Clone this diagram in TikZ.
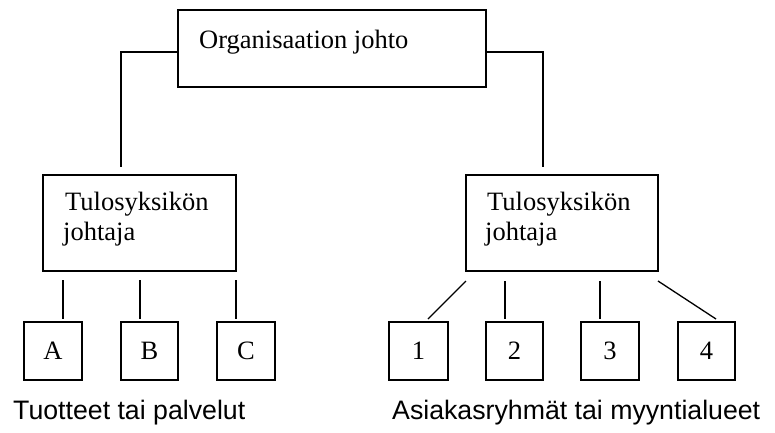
\documentclass[tikz,border=0pt]{standalone}
\usepackage{fontspec}
\setmainfont{Liberation Serif}
\newfontfamily\capfont{Liberation Sans}
\usetikzlibrary{calc}
\begin{document}
\begin{tikzpicture}[x=1pt,y=-1pt,
  box/.style={draw,line width=1.6pt,inner sep=0pt,outer sep=0pt},
  conn/.style={line width=1.3pt},
  txt/.style={anchor=base west,inner sep=0pt,font=\fontsize{26.5}{30}\selectfont},
  lbl/.style={font=\fontsize{26.5}{30}\selectfont},
  captxt/.style={anchor=base west,inner sep=0pt,font=\capfont\fontsize{26.7}{30}\selectfont}]
\useasboundingbox (0,0) rectangle (775,432);

% boxes
\node[box,minimum width=308pt,minimum height=77pt] (top) at (332,48.5) {};
\node[box,minimum width=193pt,minimum height=96pt] (midL) at (139.5,223) {};
\node[box,minimum width=192pt,minimum height=96pt] (midR) at (562,223) {};

\node[box,lbl,minimum width=58pt,minimum height=58pt] (A) at (53,351) {A};
\node[box,lbl,minimum width=57pt,minimum height=58pt] (B) at (149.5,351) {B};
\node[box,lbl,minimum width=58pt,minimum height=58pt] (C) at (246,351) {C};

\node[box,lbl,minimum width=59pt,minimum height=58pt] (n1) at (418.5,351) {1};
\node[box,lbl,minimum width=57pt,minimum height=58pt] (n2) at (514.5,351) {2};
\node[box,lbl,minimum width=58pt,minimum height=58pt] (n3) at (610,351) {3};
\node[box,lbl,minimum width=57pt,minimum height=58pt] (n4) at (706.5,351) {4};

% texts
\node[txt] (toptext) at (199,48) {Organisaation johto};
\node[txt] (mlt1) at (65,210) {Tulosyksikön};
\node[txt] (mlt2) at (63,240) {johtaja};
\node[txt] (mrt1) at (487,210) {Tulosyksikön};
\node[txt] (mrt2) at (485,240) {johtaja};

\node[captxt] (capL) at (13,419) {Tuotteet tai palvelut};
\node[captxt] (capR) at (392,419) {Asiakasryhmät tai myyntialueet};

% connectors from top box
\coordinate (lEnd) at (121,167);
\coordinate (rEnd) at (543,167);
\draw[conn] ([yshift=-3.5pt]top.west) -| (lEnd);
\draw[conn] ([yshift=-3.5pt]top.east) -| (rEnd);

% left subunits
\draw[conn] ($(midL.south west)+(20,9)$) -- ($(A.north)+(10,-3)$);
\draw[conn] ($(midL.south)+(0.5,9)$) -- ($(B.north)+(-9.5,-3)$);
\draw[conn] ($(midL.south east)+(0,9)$) -- ($(C.north)+(-10,-3)$);

% right subunits
\draw[conn] ($(midR.south west)+(0,10)$) -- ($(n1.north)+(9.5,-3)$);
\draw[conn] ($(midR.south west)+(39,10)$) -- ($(n2.north)+(-9.5,-3)$);
\draw[conn] ($(midR.south)+(38,10)$) -- ($(n3.north)+(-10,-3)$);
\draw[conn] ($(midR.south east)+(0,10)$) -- ($(n4.north)+(9.5,-3)$);
\end{tikzpicture}
\end{document}
